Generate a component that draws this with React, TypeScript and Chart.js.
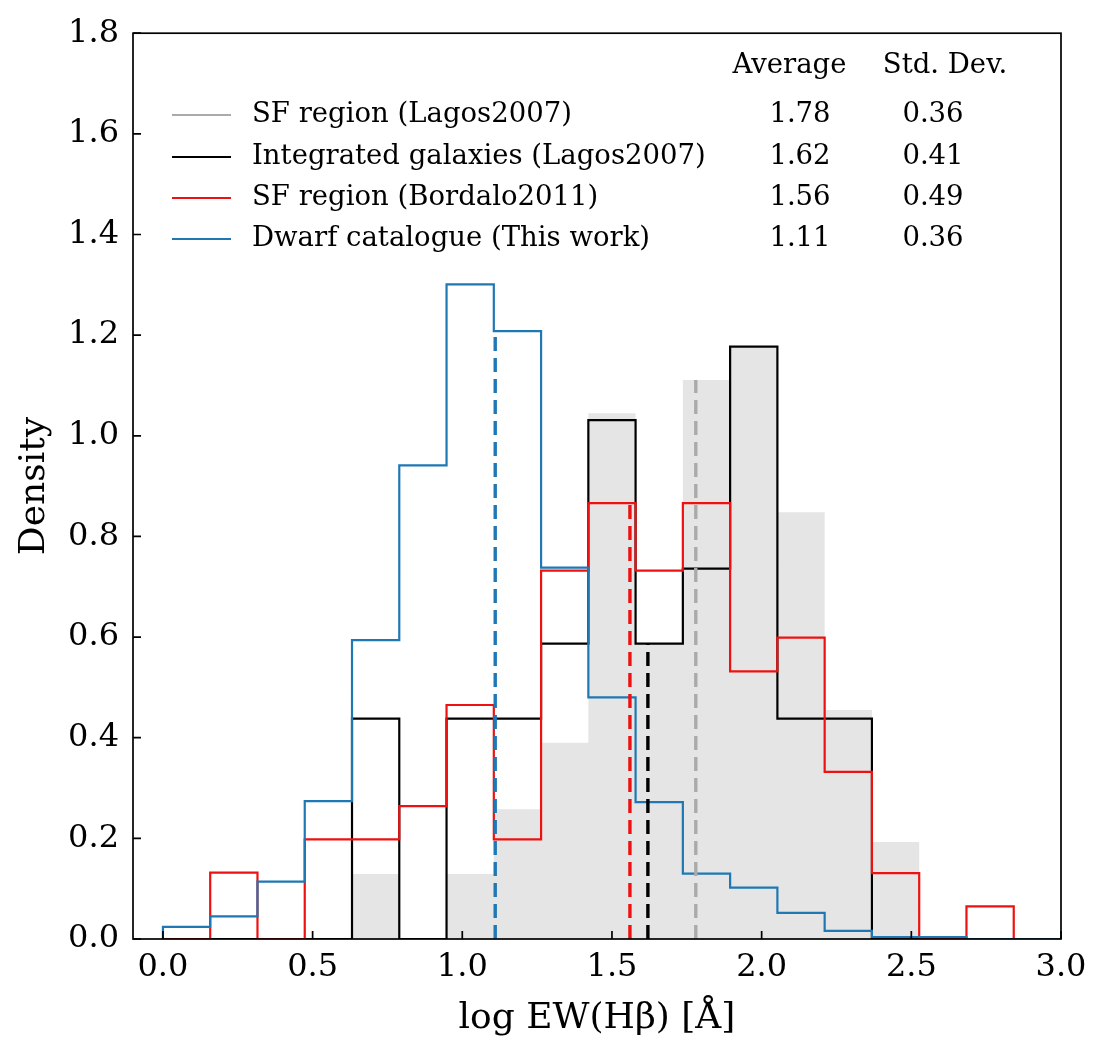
import React, { useEffect, useRef } from 'react';
import { Chart, registerables } from 'chart.js';

Chart.register(...registerables);

// Bin edges (19 bins between 0 and 3)
const binEdges = [
  0, 0.1579, 0.3158, 0.4737, 0.6316, 0.7895, 0.9474, 1.1053, 1.2632, 1.4211,
  1.5789, 1.7368, 1.8947, 2.0526, 2.2105, 2.3684, 2.5263, 2.6842, 2.8421, 3.0,
];

// Densities per bin
const sfLagos = [0, 0, 0, 0, 0.129, 0, 0.129, 0.258, 0.39, 1.045, 0.587, 1.111, 1.175, 0.848, 0.455, 0.193, 0, 0, 0];
const intLagos = [0, 0, 0, 0, 0.438, 0, 0.438, 0.438, 0.587, 1.031, 0.587, 0.736, 1.177, 0.438, 0.438, 0, 0, 0, 0];
const sfBordalo = [0, 0.132, 0, 0.198, 0.198, 0.264, 0.465, 0.198, 0.732, 0.866, 0.732, 0.866, 0.532, 0.599, 0.332, 0.131, 0, 0.065, 0];
const dwarf = [0.024, 0.045, 0.114, 0.274, 0.594, 0.941, 1.301, 1.208, 0.738, 0.48, 0.272, 0.13, 0.102, 0.052, 0.016, 0.004, 0.004, 0, 0];

const seriesNames = [
  'SF region (Lagos2007)',
  'Integrated galaxies (Lagos2007)',
  'SF region (Bordalo2011)',
  'Dwarf catalogue (This work)',
];
const averages = [1.78, 1.62, 1.56, 1.11];
const stdDevs = [0.36, 0.41, 0.49, 0.36];
const columnHeaders = ['Average', 'Std. Dev.'];

const xTicks = [0, 0.5, 1.0, 1.5, 2.0, 2.5, 3.0];
const yTicks = [0, 0.2, 0.4, 0.6, 0.8, 1.0, 1.2, 1.4, 1.6, 1.8];

const FONT = "'DejaVu Serif', serif";
const GRAY_LINE = '#aaaaaa';
const GRAY_FILL = '#e5e5e5';
const BLACK = '#000000';
const RED = '#ee1111';
const BLUE = '#1f77b4';
const lineColors = [GRAY_LINE, BLACK, RED, BLUE];

function stepPoints(values: number[]) {
  const pts: { x: number; y: number }[] = [{ x: binEdges[0], y: 0 }];
  values.forEach((v, i) => {
    pts.push({ x: binEdges[i], y: v });
    pts.push({ x: binEdges[i + 1], y: v });
  });
  pts.push({ x: binEdges[binEdges.length - 1], y: 0 });
  return pts;
}

function heightAt(values: number[], x: number) {
  for (let i = 0; i < values.length; i++) {
    if (x >= binEdges[i] && x < binEdges[i + 1]) return values[i];
  }
  return 0;
}

const frameTicksPlugin = {
  id: 'frameTicks',
  afterDatasetsDraw(chart: any) {
    const { ctx, chartArea, scales } = chart;
    const { left, right, top, bottom } = chartArea;
    ctx.save();
    ctx.strokeStyle = '#000';
    ctx.lineWidth = 1.7;
    const tl = 8;
    ctx.beginPath();
    xTicks.forEach((v) => {
      const px = scales.x.getPixelForValue(v);
      ctx.moveTo(px, bottom);
      ctx.lineTo(px, bottom - tl);
    });
    yTicks.forEach((v) => {
      const py = scales.y.getPixelForValue(v);
      ctx.moveTo(left, py);
      ctx.lineTo(left + tl, py);
    });
    ctx.stroke();
    ctx.strokeRect(left, top, right - left, bottom - top);
    ctx.restore();
  },
};

const tableLegendPlugin = {
  id: 'tableLegend',
  afterDatasetsDraw(chart: any) {
    const { ctx } = chart;
    ctx.save();
    ctx.font = `27.5px ${FONT}`;
    ctx.fillStyle = '#000';
    ctx.textBaseline = 'middle';
    ctx.textAlign = 'center';
    ctx.fillText(columnHeaders[0], 789.5, 66);
    ctx.fillText(columnHeaders[1], 945, 66);
    const rows = [115, 157, 198, 239];
    seriesNames.forEach((name, i) => {
      const y = rows[i];
      ctx.strokeStyle = lineColors[i];
      ctx.lineWidth = 2.2;
      ctx.beginPath();
      ctx.moveTo(172, y);
      ctx.lineTo(231, y);
      ctx.stroke();
      ctx.textAlign = 'left';
      ctx.fillText(name, 252, y);
      ctx.textAlign = 'center';
      ctx.fillText(averages[i].toFixed(2), 800, y);
      ctx.fillText(stdDevs[i].toFixed(2), 933, y);
    });
    ctx.restore();
  },
};

export default function App() {
  const canvasRef = useRef<HTMLCanvasElement | null>(null);

  useEffect(() => {
    if (!canvasRef.current) return;
    const hists = [sfLagos, intLagos, sfBordalo, dwarf];
    const meanLines = averages.map((m, i) => ({
      type: 'line' as const,
      data: [
        { x: m, y: 0 },
        { x: m, y: heightAt(hists[i], m) },
      ],
      borderColor: lineColors[i],
      borderWidth: 3.4,
      borderDash: [14, 7],
      pointRadius: 0,
      fill: false,
      order: 4 - i,
    }));

    const histLine = (values: number[], color: string, order: number) => ({
      data: stepPoints(values),
      borderColor: color,
      borderWidth: 2.2,
      fill: false,
      pointRadius: 0,
      order,
    });

    const chart = new Chart(canvasRef.current, {
      type: 'line',
      data: {
        datasets: [
          {
            data: stepPoints(sfLagos),
            borderWidth: 0,
            borderColor: 'rgba(0,0,0,0)',
            backgroundColor: GRAY_FILL,
            fill: 'origin',
            pointRadius: 0,
            order: 10,
          },
          histLine(intLagos, BLACK, 9),
          histLine(sfBordalo, RED, 8),
          histLine(dwarf, BLUE, 7),
          ...meanLines,
        ] as any,
      },
      options: {
        animation: false,
        responsive: true,
        maintainAspectRatio: false,
        layout: { padding: { top: 33, right: 50, left: 0, bottom: 0 } },
        elements: { line: { tension: 0, borderJoinStyle: 'miter', borderCapStyle: 'butt' } },
        plugins: { legend: { display: false }, tooltip: { enabled: false } },
        scales: {
          x: {
            type: 'linear',
            min: -0.1,
            max: 3.0,
            afterBuildTicks: (s: any) => {
              s.ticks = xTicks.map((v) => ({ value: v }));
            },
            afterFit: (s: any) => {
              s.height = 120;
            },
            grid: { display: false, drawTicks: false },
            border: { display: false },
            ticks: {
              color: '#000',
              font: { family: FONT, size: 32 },
              padding: 9,
              maxRotation: 0,
              callback: (v: any) => Number(v).toFixed(1),
            },
            title: {
              display: true,
              text: 'log EW(Hβ) [Å]',
              color: '#000',
              font: { family: FONT, size: 36 },
              padding: { top: 0, bottom: 19 },
            },
          },
          y: {
            type: 'linear',
            min: 0,
            max: 1.8,
            afterBuildTicks: (s: any) => {
              s.ticks = yTicks.map((v) => ({ value: v }));
            },
            afterFit: (s: any) => {
              s.width = 133;
            },
            grid: { display: false, drawTicks: false },
            border: { display: false },
            ticks: {
              color: '#000',
              font: { family: FONT, size: 32 },
              padding: 14,
              callback: (v: any) => Number(v).toFixed(1),
            },
            title: {
              display: true,
              text: 'Density',
              color: '#000',
              font: { family: FONT, size: 36 },
              padding: { top: 13, bottom: 0 },
            },
          },
        },
      },
      plugins: [frameTicksPlugin, tableLegendPlugin],
    } as any);
    return () => chart.destroy();
  }, []);

  return (
    <div style={{ position: 'fixed', left: 0, top: 0, width: 1111, height: 1059, background: '#fff' }}>
      <canvas ref={canvasRef} />
    </div>
  );
}
